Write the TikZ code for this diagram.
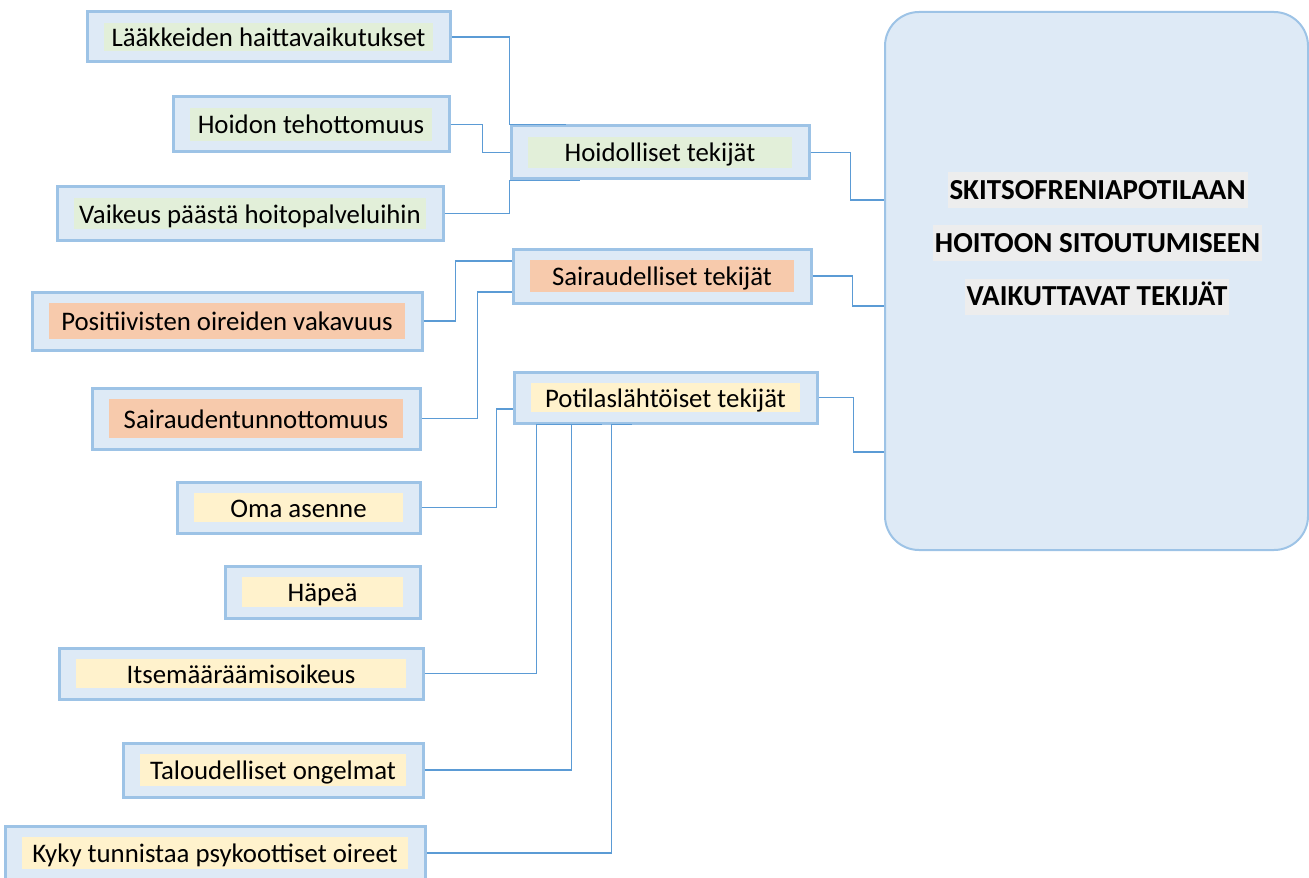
\documentclass[tikz,border=0pt]{standalone}
\usepackage{fontspec}
\setmainfont{Carlito}
\usepackage{tikz}

\definecolor{laatikko}{HTML}{DEEAF6}
\definecolor{reuna}{HTML}{9DC3E6}
\definecolor{viiva}{HTML}{5B9BD5}
\definecolor{vihrea}{HTML}{E2EFD9}
\definecolor{oranssi}{HTML}{F7CAAC}
\definecolor{keltainen}{HTML}{FFF2CC}
\definecolor{harmaa}{HTML}{EDEDED}

\tikzset{
  ulko/.style={draw=reuna, line width=1.5pt, fill=laatikko, inner sep=0pt},
  sisa/.style={inner sep=0pt, text height=11pt, text depth=1.5pt},
  yhteys/.style={draw=viiva, line width=0.75pt},
  paa/.style={draw=reuna, line width=1pt, fill=laatikko, rounded corners=17pt},
  otsikko/.style={fill=harmaa, inner xsep=1pt, inner ysep=0pt, minimum height=18pt,
    text height=9pt, text depth=0pt, font=\bfseries\fontsize{14.5}{16}\selectfont}
}

\begin{document}
\begin{tikzpicture}[x=0.5pt, y=-0.5pt, font=\fontsize{13.4}{15}\selectfont]
\useasboundingbox (0,0) rectangle (1309,877);
\foreach \n/\x/\y/\w/\h/\c/\t in {
  laak/268.5/37/363/50/vihrea/Lääkkeiden haittavaikutukset,
  teho/311/124.5/276/55/vihrea/Hoidon tehottomuus,
  vaik/250/213.5/386/53/vihrea/Vaikeus päästä hoitopalveluihin,
  hoid/660/152.5/298/53/vihrea/Hoidolliset tekijät,
  sair/662/276/298/54/oranssi/Sairaudelliset tekijät,
  posi/227/321/390/58/oranssi/Positiivisten oireiden vakavuus,
  tunn/256/418.5/328/61/oranssi/Sairaudentunnottomuus,
  poti/665.5/397.5/303/51/keltainen/Potilaslähtöiset tekijät,
  oma/298.5/507.5/243/51/keltainen/Oma asenne,
  hape/322.5/592/195/52/keltainen/Häpeä,
  itse/241/673.5/364/51/keltainen/Itsemääräämisoikeus,
  talo/273/770/300/54/keltainen/Taloudelliset ongelmat,
  kyky/215/853/420/54/keltainen/Kyky tunnistaa psykoottiset oireet} {
  \node[ulko, minimum width={\w*0.5pt}, minimum height={\h*0.5pt}] (\n) at (\x,\y) {};
  \node[sisa, fill=\c, minimum width={(\w-34)*0.5pt}, minimum height={(\h-22)*0.5pt}] (\n-t) at (\n) {\t};
}

\node[paa, minimum width=211.5pt, minimum height=269pt] (paa) at (1096.5,281) {};
\node[otsikko] (ots1) at (1097.5,190) {SKITSOFRENIAPOTILAAN};
\node[otsikko] (ots2) at (1097.5,243) {HOITOON SITOUTUMISEEN};
\node[otsikko] (ots3) at (1097,296.5) {VAIKUTTAVAT TEKIJÄT};

\draw[yhteys] (laak.east) -| (hoid.north west) -- ([xshift=28pt]hoid.north west);
\draw[yhteys] (teho.east) -- ++(16pt,0) |- (hoid.west);
\draw[yhteys] (vaik.east) -| (hoid.south west) -- ([xshift=35pt]hoid.south west);
\draw[yhteys] (hoid.east) -- ++(20pt,0) |- ([yshift=40.5pt]paa.west);
\draw[yhteys] (posi.east) -- ++(16pt,0) |- ([yshift=7.5pt]sair.west);
\draw[yhteys] (tunn.east) -- ++(28pt,0) |- ([yshift=-8pt]sair.west);
\draw[yhteys] (sair.east) -- ++(20pt,0) |- ([yshift=-12.5pt]paa.west);
\draw[yhteys] (oma.east) -- ++(37.5pt,0) |- ([yshift=-5.75pt]poti.west);
\draw[yhteys] (itse.east) -| ([xshift=12pt]poti.south west) -- ([xshift=44.5pt]poti.south west);
\draw[yhteys] (talo.east) -| ([xshift=29.5pt]poti.south west);
\draw[yhteys] (kyky.east) -| ([xshift=49.5pt]poti.south west) -- ([xshift=59.5pt]poti.south west);
\draw[yhteys] (poti.east) -- ++(17.5pt,0) |- ([yshift=-85.5pt]paa.west);
\end{tikzpicture}
\end{document}
